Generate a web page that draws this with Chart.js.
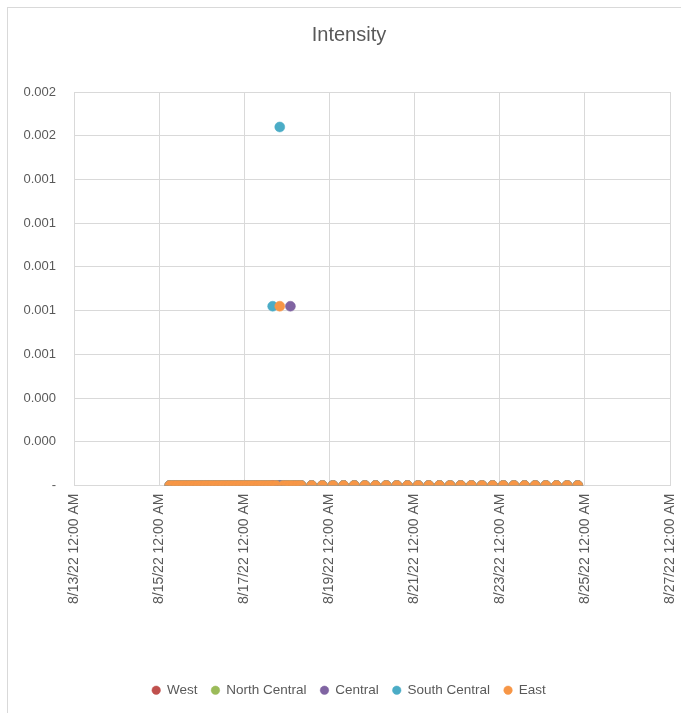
<!DOCTYPE html>
<html>
<head>
<meta charset="utf-8">
<script src="https://cdn.jsdelivr.net/npm/chart.js@4.4.0/dist/chart.umd.min.js"></script>
<style>
    html, body { margin: 0; padding: 0; background: #fff; overflow: hidden; }
    #frame { position: absolute; left: 7px; top: 7px; width: 700px; height: 720px; border: 1px solid #d9d9d9; }
    #wrap { position: absolute; left: 0; top: 0; width: 681px; height: 713px; }
</style>
</head>
<body>
<div id="frame"></div>
<div id="wrap"><canvas id="intensityChart"></canvas></div>
<script>
// Sample times (shared by every region)
const times = [
    "8/15/22 06:00", "8/15/22 08:00", "8/15/22 10:00", "8/15/22 12:00", "8/15/22 14:00", "8/15/22 16:00", "8/15/22 18:00", "8/15/22 20:00", "8/15/22 22:00",
    "8/16/22 00:00", "8/16/22 02:00", "8/16/22 04:00", "8/16/22 06:00", "8/16/22 08:00", "8/16/22 10:00", "8/16/22 12:00", "8/16/22 14:00", "8/16/22 16:00", "8/16/22 18:00", "8/16/22 20:00", "8/16/22 22:00",
    "8/17/22 00:00", "8/17/22 02:00", "8/17/22 04:00", "8/17/22 06:00", "8/17/22 08:00", "8/17/22 10:00", "8/17/22 12:00", "8/17/22 14:00", "8/17/22 16:00", "8/17/22 18:00", "8/17/22 20:00", "8/17/22 22:00",
    "8/18/22 00:00", "8/18/22 02:00", "8/18/22 04:00", "8/18/22 06:00", "8/18/22 08:00",
    "8/18/22 14:00", "8/18/22 20:00", "8/19/22 02:00", "8/19/22 08:00", "8/19/22 14:00", "8/19/22 20:00",
    "8/20/22 02:00", "8/20/22 08:00", "8/20/22 14:00", "8/20/22 20:00", "8/21/22 02:00", "8/21/22 08:00",
    "8/21/22 14:00", "8/21/22 20:00", "8/22/22 02:00", "8/22/22 08:00", "8/22/22 14:00", "8/22/22 20:00",
    "8/23/22 02:00", "8/23/22 08:00", "8/23/22 14:00", "8/23/22 20:00", "8/24/22 02:00", "8/24/22 08:00",
    "8/24/22 14:00", "8/24/22 20:00"
];

const westValues = [
    0, 0, 0, 0, 0, 0, 0, 0, 0,
    0, 0, 0, 0, 0, 0, 0, 0, 0, 0, 0, 0,
    0, 0, 0, 0, 0, 0, 0, 0, 0, 0, 0, 0,
    0, 0, 0, 0, 0,
    0, 0, 0, 0, 0, 0, 0, 0, 0, 0, 0, 0, 0, 0, 0, 0, 0, 0, 0, 0, 0, 0, 0, 0, 0, 0
];
const northCentralValues = [
    0, 0, 0, 0, 0, 0, 0, 0, 0,
    0, 0, 0, 0, 0, 0, 0, 0, 0, 0, 0, 0,
    0, 0, 0, 0, 0, 0, 0, 0, 0, 0, 0, 0,
    0, 0, 0, 0, 0,
    0, 0, 0, 0, 0, 0, 0, 0, 0, 0, 0, 0, 0, 0, 0, 0, 0, 0, 0, 0, 0, 0, 0, 0, 0, 0
];
const centralValues = [
    0, 0, 0, 0, 0, 0, 0, 0, 0,
    0, 0, 0, 0, 0, 0, 0, 0, 0, 0, 0, 0,
    0, 0, 0, 0, 0, 0, 0, 0, 0, 0, 0, 0,
    0, 0.00082, 0, 0, 0,
    0, 0, 0, 0, 0, 0, 0, 0, 0, 0, 0, 0, 0, 0, 0, 0, 0, 0, 0, 0, 0, 0, 0, 0, 0, 0
];
const southCentralValues = [
    0, 0, 0, 0, 0, 0, 0, 0, 0,
    0, 0, 0, 0, 0, 0, 0, 0, 0, 0, 0, 0,
    0, 0, 0, 0, 0, 0, 0, 0, 0.00082, 0, 0.00164, 0,
    0, 0, 0, 0, 0,
    0, 0, 0, 0, 0, 0, 0, 0, 0, 0, 0, 0, 0, 0, 0, 0, 0, 0, 0, 0, 0, 0, 0, 0, 0, 0
];
const eastValues = [
    0, 0, 0, 0, 0, 0, 0, 0, 0,
    0, 0, 0, 0, 0, 0, 0, 0, 0, 0, 0, 0,
    0, 0, 0, 0, 0, 0, 0, 0, 0, 0, 0.00082, 0,
    0, 0, 0, 0, 0,
    0, 0, 0, 0, 0, 0, 0, 0, 0, 0, 0, 0, 0, 0, 0, 0, 0, 0, 0, 0, 0, 0, 0, 0, 0, 0
];

const seriesNames = ["West", "North Central", "Central", "South Central", "East"];
const seriesColors = ["#C0504D", "#9BBB59", "#8064A2", "#4BACC6", "#F79646"];

const xTickLabels = [
    "8/13/22 12:00 AM", "8/15/22 12:00 AM", "8/17/22 12:00 AM", "8/19/22 12:00 AM",
    "8/21/22 12:00 AM", "8/23/22 12:00 AM", "8/25/22 12:00 AM", "8/27/22 12:00 AM"
];
const yTicks = [0, 0.0002, 0.0004, 0.0006, 0.0008, 0.0010, 0.0012, 0.0014, 0.0016, 0.0018];
const yTickLabels = ["-", "0.000", "0.000", "0.001", "0.001", "0.001", "0.001", "0.001", "0.002", "0.002"];

function toMs(text) {
    const parts = text.split(" ");
    const d = parts[0].split("/").map(Number);
    const t = (parts[1] || "00:00").split(":").map(Number);
    return Date.UTC(2000 + d[2], d[0] - 1, d[1], t[0], t[1]);
}

const xValues = times.map(toMs);
const xTickValues = xTickLabels.map(l => toMs(l.split(" ")[0]));

const allValues = [westValues, northCentralValues, centralValues, southCentralValues, eastValues];

const datasets = seriesNames.map(function (name, i) {
    return {
        label: name,
        data: xValues.map((x, j) => ({ x: x, y: allValues[i][j] })),
        backgroundColor: seriesColors[i],
        borderColor: seriesColors[i],
        borderWidth: 0.5,
        pointRadius: 5,
        pointHoverRadius: 5,
        // later series drawn on top, like Excel
        order: seriesNames.length - i
    };
});

const textColor = "#595959";
const gridColor = "#d9d9d9";
const fontFamily = "'Liberation Sans', Arial, sans-serif";

new Chart(document.getElementById("intensityChart"), {
    type: "scatter",
    data: { datasets: datasets },
    options: {
        responsive: true,
        maintainAspectRatio: false,
        animation: false,
        layout: { padding: { left: 17, right: 0, top: 0, bottom: 6 } },
        plugins: {
            title: {
                display: true,
                text: "Intensity",
                color: textColor,
                font: { family: fontFamily, size: 20, weight: "normal" },
                padding: { top: 23, bottom: 45 }
            },
            legend: {
                position: "bottom",
                labels: {
                    usePointStyle: true,
                    pointStyle: "circle",
                    boxWidth: 8,
                    boxHeight: 6,
                    padding: 14,
                    color: textColor,
                    font: { family: fontFamily, size: 13.5 },
                    sort: (a, b) => a.datasetIndex - b.datasetIndex
                }
            },
            tooltip: { enabled: false }
        },
        scales: {
            x: {
                type: "linear",
                min: xTickValues[0],
                max: xTickValues[xTickValues.length - 1],
                afterBuildTicks: function (scale) {
                    scale.ticks = xTickValues.map(v => ({ value: v }));
                },
                afterFit: function (scale) {
                    scale.height = 184;
                    scale.paddingLeft = 0;
                    scale.paddingRight = 11;
                    scale.paddingTop = 0;
                    scale.paddingBottom = 0;
                },
                grid: { color: gridColor, drawTicks: false },
                border: { color: gridColor },
                ticks: {
                    autoSkip: false,
                    maxRotation: 90,
                    minRotation: 90,
                    padding: 8,
                    color: textColor,
                    font: { family: fontFamily, size: 14 },
                    callback: function (value, index) {
                        return xTickLabels[index];
                    }
                }
            },
            y: {
                min: yTicks[0],
                max: yTicks[yTicks.length - 1],
                afterBuildTicks: function (scale) {
                    scale.ticks = yTicks.map(v => ({ value: v }));
                },
                afterFit: function (scale) {
                    scale.width = 57;
                    scale.paddingTop = 0;
                    scale.paddingBottom = 0;
                },
                grid: { color: gridColor, drawTicks: false },
                border: { display: false },
                ticks: {
                    padding: 18,
                    color: textColor,
                    font: { family: fontFamily, size: 13 },
                    callback: function (value, index) {
                        return yTickLabels[index];
                    }
                }
            }
        }
    }
});
</script>
</body>
</html>
